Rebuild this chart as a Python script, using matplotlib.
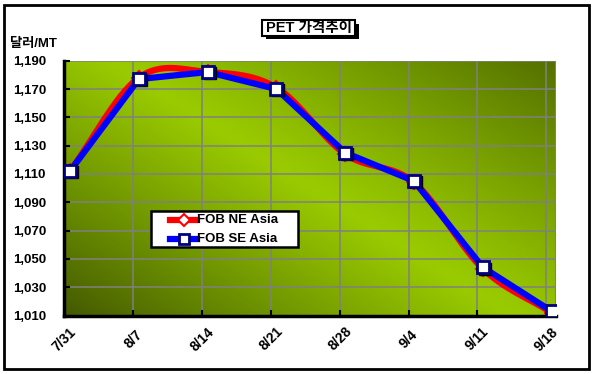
import numpy as np
import matplotlib
matplotlib.use("Agg")
import matplotlib.pyplot as plt
import matplotlib.transforms as mtransforms
from matplotlib.patches import Rectangle
from matplotlib.lines import Line2D
from matplotlib.colors import LinearSegmentedColormap

plt.rcParams['font.family'] = ['Liberation Sans', 'Noto Sans CJK KR']

# ---- data ----
dates = ["7/31", "8/7", "8/14", "8/21", "8/28", "9/4", "9/11", "9/18"]
ne_asia = [1112, 1178, 1182, 1171, 1124, 1104, 1043, 1012]
se_asia = [1112, 1177, 1182, 1170, 1125, 1105, 1044, 1013]
y_ticks = [1010, 1030, 1050, 1070, 1090, 1110, 1130, 1150, 1170, 1190]
title = "PET 가격추이"
y_unit = "달러/MT"
series_names = ["FOB NE Asia", "FOB SE Asia"]

W, H = 593, 374


def catmull_rom(x, y, n=30):
    x = np.asarray(x, float); y = np.asarray(y, float)
    px = np.concatenate([[2 * x[0] - x[1]], x, [2 * x[-1] - x[-2]]])
    py = np.concatenate([[2 * y[0] - y[1]], y, [2 * y[-1] - y[-2]]])
    xs, ys = [], []
    for i in range(1, len(px) - 2):
        t = np.linspace(0, 1, n, endpoint=False)
        for p, out in ((px, xs), (py, ys)):
            p0, p1, p2, p3 = p[i - 1], p[i], p[i + 1], p[i + 2]
            out.extend(0.5 * ((2 * p1) + (-p0 + p2) * t +
                              (2 * p0 - 5 * p1 + 4 * p2 - p3) * t ** 2 +
                              (-p0 + 3 * p1 - 3 * p2 + p3) * t ** 3))
    xs.append(x[-1]); ys.append(y[-1])
    return np.array(xs), np.array(ys)


def fx(px):
    return px / W


def fy(py):
    return 1 - py / H


fig = plt.figure(figsize=(W / 100, H / 100), dpi=100)
fig.patch.set_facecolor("white")

# outer frame
fig.add_artist(Rectangle((fx(4), fy(369)), 585 / W, 364 / H,
                         transform=fig.transFigure, fill=False,
                         edgecolor="black", linewidth=2))

ax = fig.add_axes([fx(64), fy(315.5), 492 / W, 254.8 / H])
x = np.arange(len(dates))
xmin, xmax = -0.087, 7.063
ymin, ymax = 1010, 1190
ax.set_xlim(xmin, xmax)
ax.set_ylim(ymin, ymax)

# gradient background
gu, gv = np.meshgrid(np.linspace(0, 1, 300), np.linspace(0, 1, 200))
d = (gu * 0.55 + gv * 0.45)
val = np.where(d < 0.5, (d / 0.5) ** 0.9, 1 - 0.8 * ((d - 0.5) / 0.5) ** 1.1)
cmap = LinearSegmentedColormap.from_list("g", ["#435800", "#6d9200", "#9acb00"])
ax.imshow(val, cmap=cmap, extent=[xmin, xmax, ymin, ymax], origin="lower",
          aspect="auto", zorder=0, vmin=0, vmax=1)

# grid
grid_x = x - 0.08
for gx in grid_x[1:]:
    ax.axvline(gx, color="#808080", lw=1.1, zorder=1)
for gy in y_ticks[1:]:
    ax.axhline(gy, color="#808080", lw=1.1, zorder=1)
ax.axvline(xmax, color="#808080", lw=1.5, zorder=1)

# series
sx, sy = catmull_rom(x, ne_asia)
ax.plot(sx, sy, color="#ff0000", lw=4.5, zorder=3, solid_capstyle="round")
ax.plot(x, ne_asia, ls="none", marker="D", ms=7, mfc="white", mec="#ff0000",
        mew=1.5, zorder=3)
ax.plot(x, se_asia, color="#0000ff", lw=4.5, zorder=4)
ax.plot(x + 0.03, np.array(se_asia) - 0.8, ls="none", marker="s", ms=9,
        mfc="black", mec="black", zorder=4)
ax.plot(x, se_asia, ls="none", marker="s", ms=9, mfc="white", mec="#000080",
        mew=2, zorder=5)

# axes styling
ax.set_yticks(y_ticks)
ax.set_yticklabels([f"{v:,}" for v in y_ticks], fontsize=9.5, fontweight="bold")
ax.set_xticks(grid_x)
ax.set_xticklabels(dates, fontsize=10, fontweight="bold", rotation=45,
                   ha="center", va="center", rotation_mode="anchor")
offset = mtransforms.ScaledTranslation(-7 / 100, 0, fig.dpi_scale_trans)
for lbl in ax.get_xticklabels():
    lbl.set_transform(lbl.get_transform() + offset)
ax.tick_params(axis="both", direction="in", length=4, width=1.5, color="black")
ax.tick_params(axis="x", pad=17)
ax.tick_params(axis="y", pad=13)
for s in ["top", "right"]:
    ax.spines[s].set_visible(False)
for s in ["left", "bottom"]:
    ax.spines[s].set_linewidth(2.5)
    ax.spines[s].set_color("black")

# unit label
fig.text(fx(10), fy(44), y_unit, fontsize=9.5, fontweight="bold",
         ha="left", va="center")

# title with shadow box
fig.add_artist(Rectangle((fx(266), fy(39)), 93 / W, 15 / H,
                         transform=fig.transFigure, facecolor="black",
                         edgecolor="none", zorder=5))
fig.add_artist(Rectangle((fx(262), fy(35.5)), 93 / W, 15 / H,
                         transform=fig.transFigure, facecolor="white",
                         edgecolor="black", linewidth=1.5, zorder=6))
fig.text(fx(308.5), fy(28), title, fontsize=10.5, fontweight="bold",
         ha="center", va="center", zorder=10)

# legend (manual box)
fig.add_artist(Rectangle((fx(150.5), fy(247)), 147 / W, 36 / H,
                         transform=fig.transFigure, facecolor="white",
                         edgecolor="black", linewidth=1.8, zorder=20))
leg_rows = [(220, "#ff0000", "D", "#ff0000", 6, 1.5),
            (239, "#0000ff", "s", "#000080", 7.5, 2)]
for (ry, col, mk, mec, ms, mew), name in zip(leg_rows, series_names):
    fig.add_artist(Line2D([fx(170), fx(197)], [fy(ry), fy(ry)],
                          transform=fig.transFigure, color=col, lw=4.5,
                          zorder=21))
    fig.add_artist(Line2D([fx(183.5)], [fy(ry)], transform=fig.transFigure,
                          ls="none", marker=mk, ms=ms, mfc="white", mec=mec,
                          mew=mew, zorder=22))
    fig.text(fx(197), fy(ry), name, fontsize=9.5, fontweight="bold",
             ha="left", va="center", zorder=23)

fig.savefig("out.png", dpi=100)
